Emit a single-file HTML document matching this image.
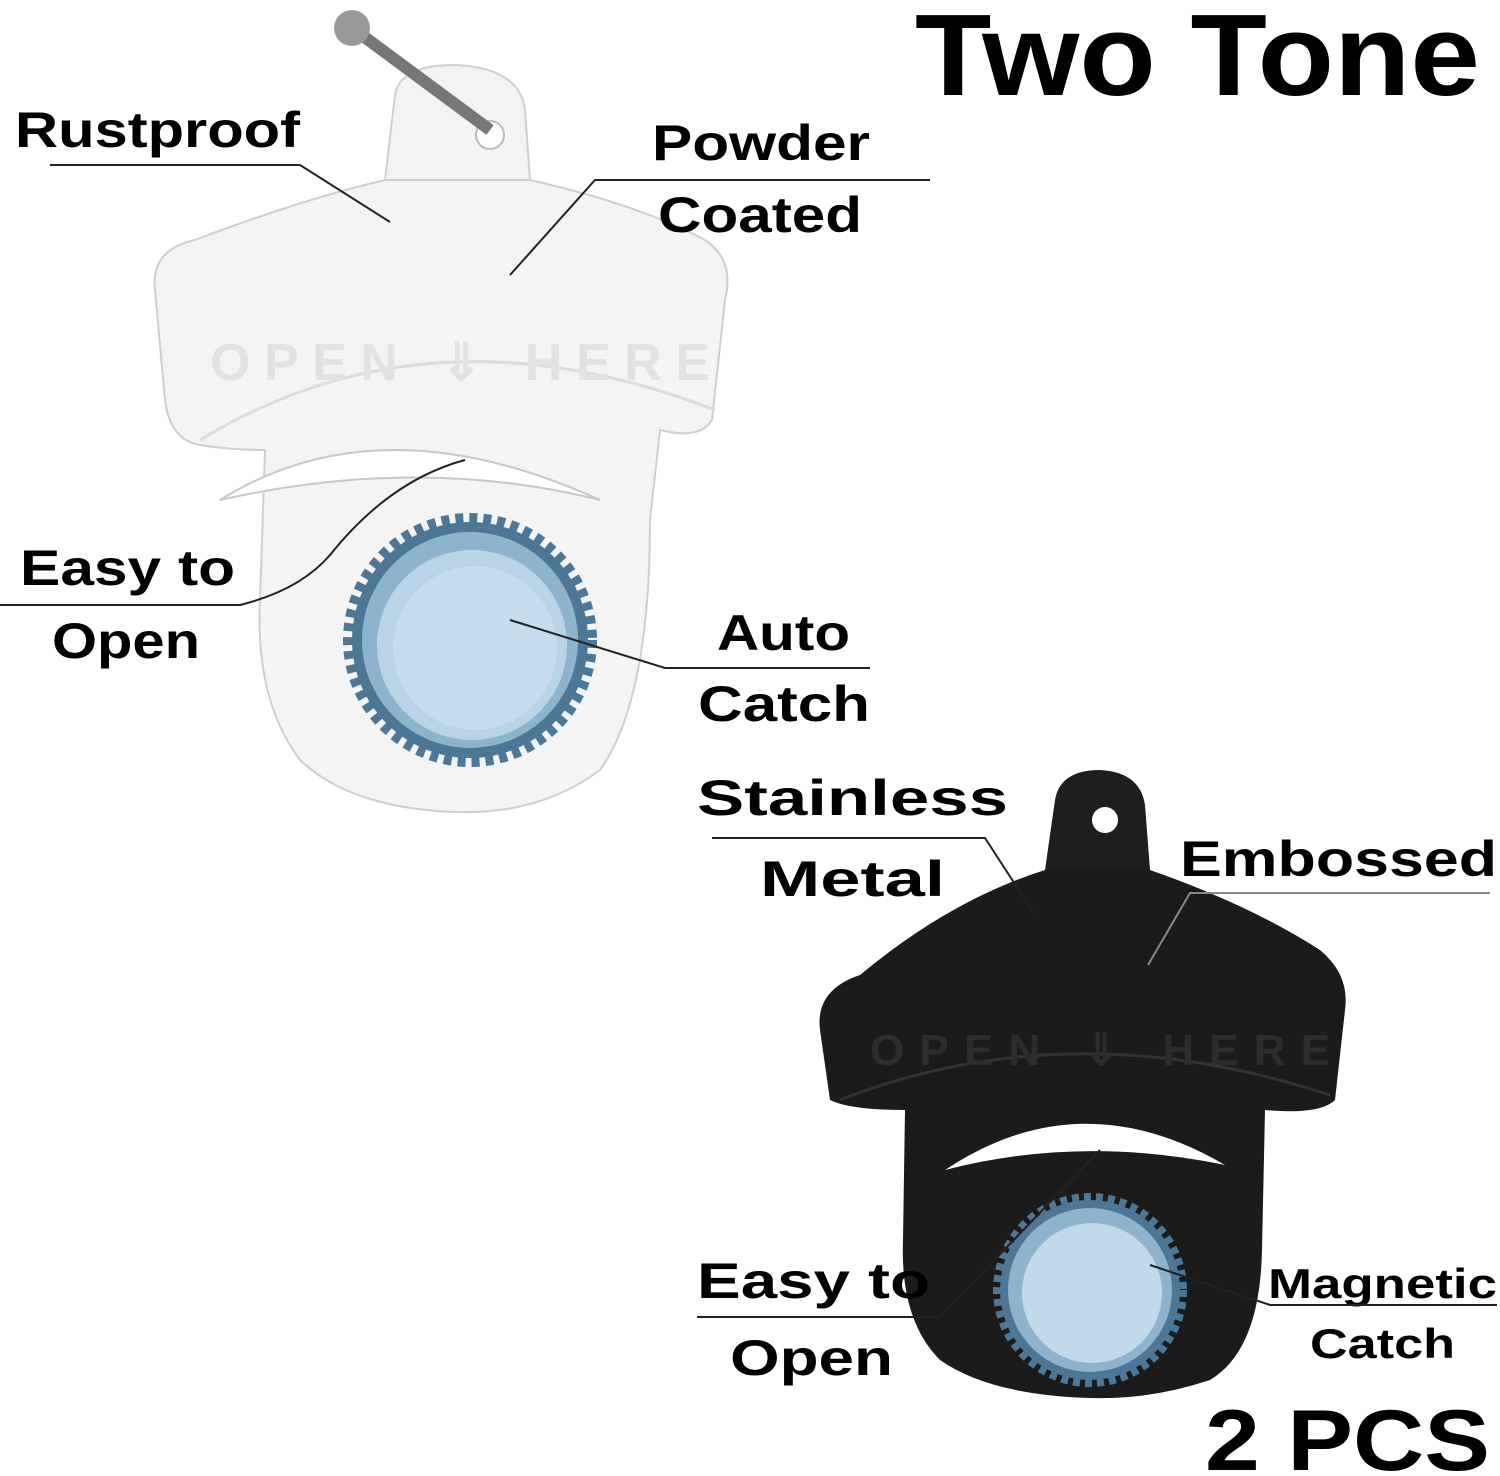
<!DOCTYPE html>
<html><head><meta charset="utf-8"><style>
html,body{margin:0;padding:0;background:#fff;}
svg{display:block;}
text{font-family:"Liberation Sans",Arial,sans-serif;font-weight:bold;fill:#000;}
</style></head><body>
<svg width="1500" height="1476" viewBox="0 0 1500 1476" xmlns="http://www.w3.org/2000/svg">
<rect width="1500" height="1476" fill="#fff"/>
<!-- White opener -->
<g>
  <path d="M385,180 L395,95 Q400,65 455,65 Q520,68 525,110 L530,180 Z" fill="#f3f3f3" stroke="#d0d0d0" stroke-width="2"/>
  <circle cx="490" cy="135" r="14" fill="#fff" stroke="#bbb" stroke-width="2"/>
  <path d="M155,290 Q150,250 195,240 Q300,200 385,180 L530,180 Q640,205 705,240 Q735,260 725,300 L712,420 Q700,440 660,430 L650,520 Q650,700 600,770 Q540,815 455,812 Q350,808 300,760 Q255,700 260,600 L265,450 Q230,450 200,445 Q170,440 165,400 Z" fill="#f4f4f4" stroke="#cfcfcf" stroke-width="2"/>
  <path d="M200,440 Q430,300 715,410" fill="none" stroke="#dcdcdc" stroke-width="3"/>
  <path d="M220,500 Q380,400 600,500 Q420,455 220,500 Z" fill="#fff" stroke="#c8c8c8" stroke-width="2"/>
  <text x="210" y="380" font-size="52" style="fill:#e2e2e2" textLength="500">OPEN ⇓ HERE</text>
  <circle cx="470" cy="640" r="122" fill="none" stroke="#4d7796" stroke-width="10" stroke-dasharray="8 6"/>
  <circle cx="470" cy="640" r="118" fill="#4d7796"/>
  <circle cx="470" cy="640" r="108" fill="#8eb3cc"/>
  <circle cx="472" cy="645" r="95" fill="#b9d4e6"/>
  <circle cx="475" cy="648" r="82" fill="#c7dded"/>
  <path d="M355,30 L490,130" stroke="#777" stroke-width="12"/>
  <circle cx="352" cy="28" r="18" fill="#999"/>
</g>
<!-- Black opener -->
<g>
  <path d="M1045,870 L1055,800 Q1060,770 1100,770 Q1140,772 1145,805 L1150,870 Z" fill="#1e1e1e"/>
  <circle cx="1105" cy="820" r="13" fill="#fff"/>
  <path d="M820,1030 Q815,990 860,975 Q950,900 1045,870 L1150,870 Q1250,905 1320,950 Q1350,975 1345,1010 L1335,1100 Q1320,1115 1265,1110 L1262,1250 Q1260,1350 1210,1380 Q1150,1400 1090,1398 Q990,1395 940,1360 Q900,1320 903,1240 L905,1110 Q850,1110 830,1100 Z" fill="#1b1b1b"/>
  <path d="M840,1100 Q1070,1010 1330,1095" fill="none" stroke="#333" stroke-width="3"/>
  <path d="M945,1170 Q1080,1080 1225,1165 Q1080,1135 945,1170 Z" fill="#fff"/>
  <text x="870" y="1065" font-size="44" style="fill:#2d2d2d" textLength="460">OPEN ⇓ HERE</text>
  <circle cx="1090" cy="1290" r="93" fill="none" stroke="#4d7796" stroke-width="8" stroke-dasharray="7 5"/>
  <circle cx="1090" cy="1290" r="90" fill="#4d7796"/>
  <circle cx="1090" cy="1290" r="82" fill="#8eb3cc"/>
  <circle cx="1092" cy="1293" r="70" fill="#c2d9ea"/>
</g>
<text x="915" y="95" font-size="116" textLength="565" lengthAdjust="spacingAndGlyphs">Two Tone</text>
<text x="1205" y="1470" font-size="86" textLength="285" lengthAdjust="spacingAndGlyphs">2 PCS</text>
<g font-size="50">
<text x="15" y="147" textLength="285" lengthAdjust="spacingAndGlyphs">Rustproof</text>
<text x="652" y="160" textLength="218" lengthAdjust="spacingAndGlyphs">Powder</text>
<text x="658" y="232" textLength="204" lengthAdjust="spacingAndGlyphs">Coated</text>
<text x="20" y="585" textLength="215" lengthAdjust="spacingAndGlyphs">Easy to</text>
<text x="52" y="658" textLength="148" lengthAdjust="spacingAndGlyphs">Open</text>
<text x="717" y="650" textLength="133" lengthAdjust="spacingAndGlyphs">Auto</text>
<text x="698" y="721" textLength="172" lengthAdjust="spacingAndGlyphs">Catch</text>
<text x="697" y="815" textLength="311" lengthAdjust="spacingAndGlyphs">Stainless</text>
<text x="760" y="896" textLength="185" lengthAdjust="spacingAndGlyphs">Metal</text>
<text x="1180" y="876" textLength="317" lengthAdjust="spacingAndGlyphs">Embossed</text>
<text x="697" y="1298" textLength="233" lengthAdjust="spacingAndGlyphs">Easy to</text>
<text x="730" y="1375" textLength="163" lengthAdjust="spacingAndGlyphs">Open</text>
</g>
<g font-size="42">
<text x="1268" y="1298" textLength="229" lengthAdjust="spacingAndGlyphs">Magnetic</text>
<text x="1310" y="1358" textLength="145" lengthAdjust="spacingAndGlyphs">Catch</text>
</g>
<g fill="none" stroke-width="2">
<path d="M50,165 L300,165 L390,222" stroke="#222"/>
<path d="M930,180 L595,180 L510,275" stroke="#222"/>
<path d="M0,605 L240,605 Q300,590 330,555 Q390,480 465,460" stroke="#222"/>
<path d="M870,668 L665,668 L510,620" stroke="#222"/>
<path d="M712,838 L985,838 L1035,915" stroke="#222"/>
<path d="M1490,893 L1190,893 L1148,965" stroke="#888"/>
<path d="M697,1317 L940,1317 L1100,1150" stroke="#222"/>
<path d="M1497,1305 L1270,1305 L1150,1265" stroke="#222"/>
</g>
</svg>
</body></html>
